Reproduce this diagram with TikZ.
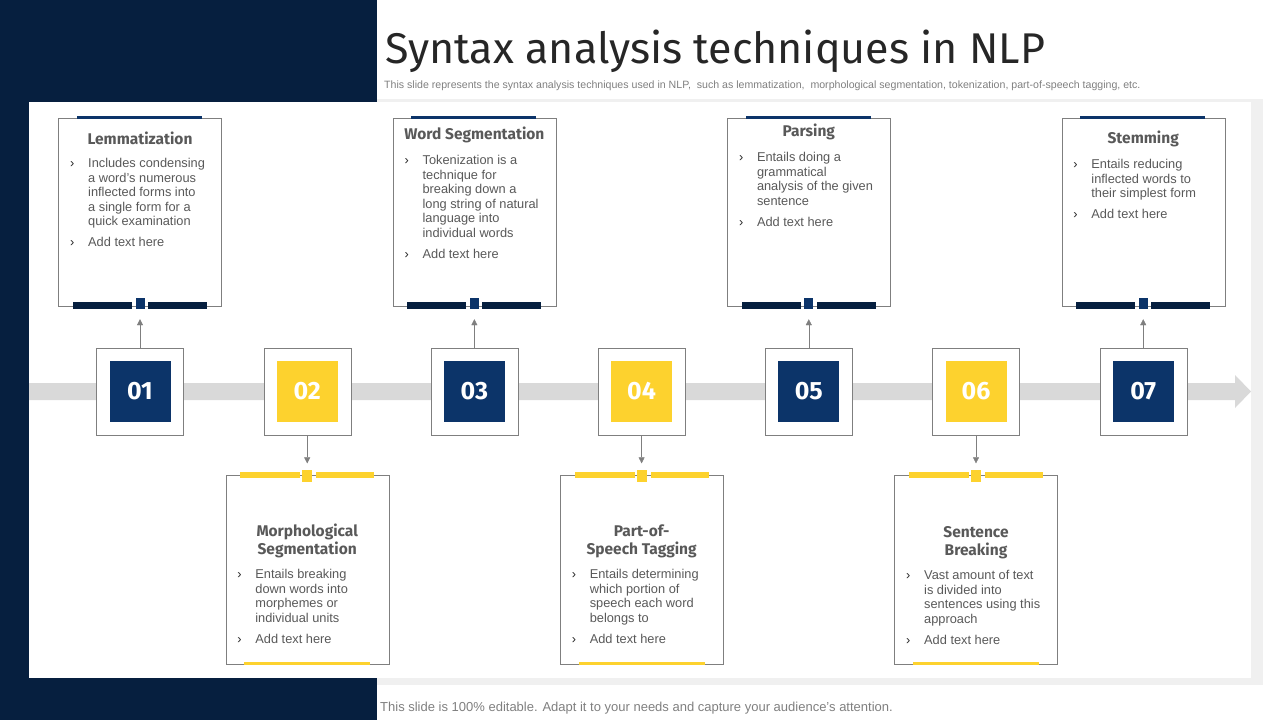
\documentclass[tikz,border=0pt]{standalone}
\usepackage{fontspec}
\setmainfont{Liberation Sans}
\newfontfamily\dinfont{Fira Sans}
\usetikzlibrary{arrows.meta}

\definecolor{navydark}{HTML}{061F3F}
\definecolor{navy}{HTML}{0C3469}
\definecolor{sunyellow}{HTML}{FDD22E}
\definecolor{bandgray}{HTML}{D9D9D9}
\definecolor{linegray}{HTML}{7F7F7F}
\definecolor{txtgray}{HTML}{595959}
\definecolor{titlegray}{HTML}{262626}

\newcommand{\bl}{\textcolor{titlegray}{›}}
\newcommand{\blist}[1]{\begin{tabular}[t]{@{}p{18pt}@{}l@{}}#1\end{tabular}}
\newcommand{\hlist}[1]{\begin{tabular}[t]{@{}c@{}}#1\end{tabular}}

\tikzset{
  numbox/.style={draw=linegray, fill=white, minimum size=87pt, inner sep=0},
  numsq/.style={minimum size=61pt, inner sep=0, text=white,
    font=\dinfont\bfseries\fontsize{25}{25}\selectfont},
  card/.style={draw=linegray, fill=white, minimum width=163pt, inner sep=0},
  cardhead/.style={anchor=base, inner sep=0, text=txtgray,
    font=\dinfont\bfseries\fontsize{15.5}{17}\selectfont},
  cardbody/.style={anchor=base west, inner sep=0, text=txtgray,
    font=\fontsize{12.8}{14.5}\selectfont},
  conn/.style={draw=linegray, -{Triangle[length=6pt,width=6pt]}},
}

\begin{document}
\begin{tikzpicture}[x=1pt,y=-1pt]
  \useasboundingbox (0,0) rectangle (1280,720);
  \fill[black!6] (33,99) rectangle (1263,685);
  \fill[navydark] (0,0) rectangle (377,720);
  \fill[white] (29,102) rectangle (1251,678);

  \node[anchor=base west, inner sep=0, text=titlegray,
    font=\dinfont\fontsize{43}{43}\selectfont] (title) at (385,63)
    {Syntax analysis techniques in NLP};
  \node[anchor=base west, inner sep=0, text=linegray,
    font=\fontsize{10.6}{11}\selectfont] (sub) at (384,88.5)
    {This slide represents the syntax analysis techniques used in NLP,\ \ such as lemmatization,\ \ morphological segmentation, tokenization, part-of-speech tagging, etc.};
  \node[anchor=base west, inner sep=0, text=linegray,
    font=\fontsize{13}{14}\selectfont] (foot) at (380,711.5)
    {This slide is 100\% editable. Adapt it to your needs and capture your audience's attention.};

  % timeline
  \fill[bandgray] (29,383) -- (1235,383) -- (1235,375) -- (1251,391.5)
    -- (1235,408) -- (1235,400) -- (29,400) -- cycle;
  \foreach \i/\x/\c in {1/140/navy,2/307.2/sunyellow,3/474.4/navy,4/641.6/sunyellow,
    5/808.8/navy,6/976/sunyellow,7/1143.2/navy}{
    \node[numbox] (n\i) at (\x,392) {};
    \node[numsq, fill=\c] (s\i) at (\x,391.5) {0\i};
  }

  % cards above
  \foreach \i/\x in {1/140,3/474.4,5/808.8,7/1143.2}{
    \node[card, minimum height=188pt] (c\i) at (\x,212) {};
    \fill[navy] (\x-63,115.7) rectangle (\x+62,118.5);
    \fill[navydark] (\x-67,301.7) rectangle (\x-8,309.3);
    \fill[navy] (\x-4.5,298.3) rectangle (\x+4.5,309.3);
    \fill[navydark] (\x+8,301.7) rectangle (\x+67,309.3);
    \draw[conn, shorten >=13pt] (n\i) -- (c\i);
  }
  % cards below
  \foreach \i/\x in {2/307.2,4/641.6,6/976}{
    \node[card, minimum height=188.5pt] (c\i) at (\x,569.8) {};
    \fill[sunyellow] (\x-67,471.7) rectangle (\x-7,478.3);
    \fill[sunyellow] (\x-5,470) rectangle (\x+5,482.3);
    \fill[sunyellow] (\x+9,471.7) rectangle (\x+67,478.3);
    \fill[sunyellow] (\x-63,661.7) rectangle (\x+63,665);
    \draw[conn, shorten >=12pt] (n\i) -- (c\i);
  }

  \node[cardhead] (h1) at (140,144.5) {Lemmatization};
  \node[cardbody] (b1) at (70,167.5) {\blist{\bl & Includes condensing\\ & a word's numerous\\
    & inflected forms into\\ & a single form for a\\ & quick examination\\[6.5pt] \bl & Add text here}};

  \node[cardhead] (h3) at (474.4,139.5) {Word Segmentation};
  \node[cardbody] (b3) at (404.4,164.5) {\blist{\bl & Tokenization is a\\ & technique for\\
    & breaking down a\\ & long string of natural\\ & language into\\ & individual words\\[6.5pt] \bl & Add text here}};

  \node[cardhead] (h5) at (808.8,136.5) {Parsing};
  \node[cardbody] (b5) at (738.8,161.5) {\blist{\bl & Entails doing a\\ & grammatical\\
    & analysis of the given\\ & sentence\\[6.5pt] \bl & Add text here}};

  \node[cardhead] (h7) at (1143.2,143.5) {Stemming};
  \node[cardbody] (b7) at (1073.2,168.5) {\blist{\bl & Entails reducing\\ & inflected words to\\
    & their simplest form\\[6.5pt] \bl & Add text here}};

  \node[cardhead] (h2) at (307.2,536.5) {\hlist{Morphological\\Segmentation}};
  \node[cardbody] (b2) at (237.2,578.5) {\blist{\bl & Entails breaking\\ & down words into\\
    & morphemes or\\ & individual units\\[6.5pt] \bl & Add text here}};

  \node[cardhead] (h4) at (641.6,536.5) {\hlist{Part-of-\\Speech Tagging}};
  \node[cardbody] (b4) at (571.6,578.5) {\blist{\bl & Entails determining\\ & which portion of\\
    & speech each word\\ & belongs to\\[6.5pt] \bl & Add text here}};

  \node[cardhead] (h6) at (976,537.5) {\hlist{Sentence\\Breaking}};
  \node[cardbody] (b6) at (906,579.5) {\blist{\bl & Vast amount of text\\ & is divided into\\
    & sentences using this\\ & approach\\[6.5pt] \bl & Add text here}};
\end{tikzpicture}
\end{document}
